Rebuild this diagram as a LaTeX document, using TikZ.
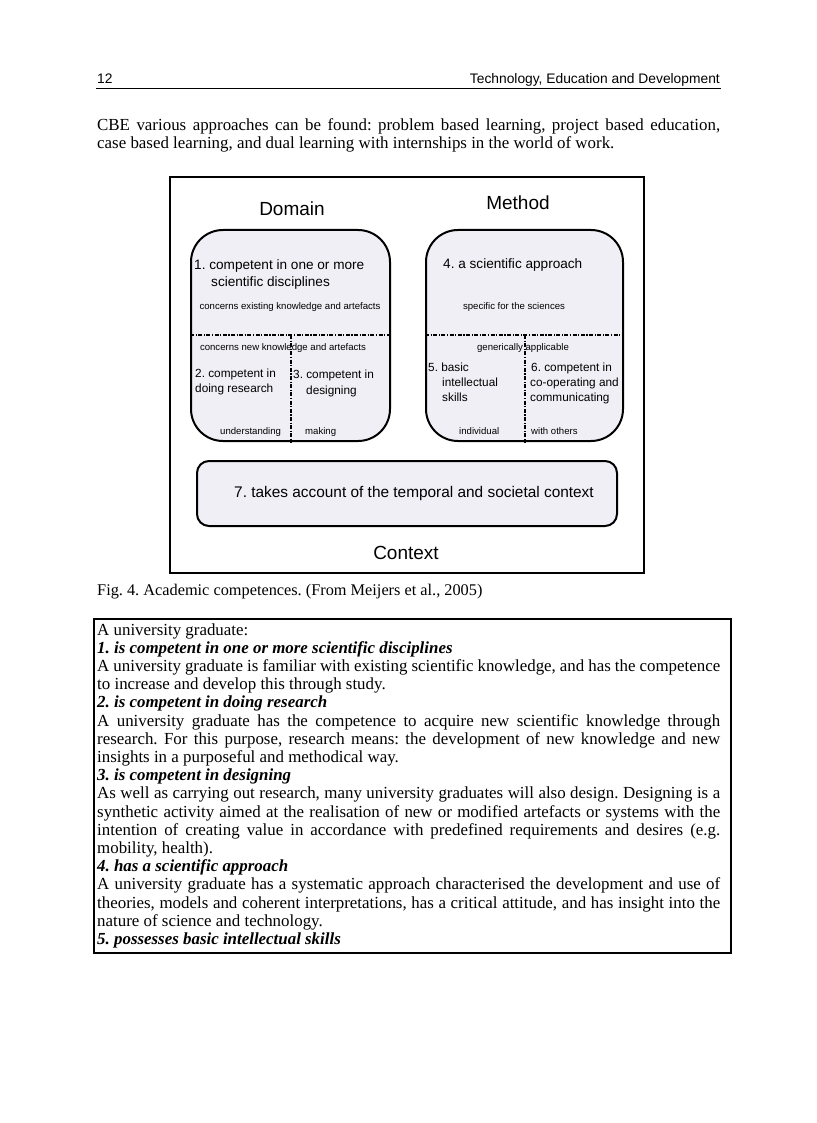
\documentclass[tikz,border=0pt]{standalone}
\usepackage{fontspec}
\setmainfont{Liberation Serif}
\newfontfamily\arial{Liberation Sans}
\definecolor{boxfill}{RGB}{240,239,246}
\newcommand{\jline}[1]{\makebox[623pt][s]{#1}}
\newcommand{\bi}[1]{\textbf{\textit{#1}}}
\frenchspacing
\tikzset{
  body/.style={anchor=base west, inner sep=0pt, font=\fontsize{16.9}{19}\selectfont},
  hdr/.style={inner sep=0pt, font=\arial\fontsize{13.8}{16}\selectfont},
  big/.style={inner sep=0pt, anchor=base, font=\arial\fontsize{19}{22}\selectfont},
  lab/.style={anchor=base west, inner sep=0pt, font=\arial\fontsize{13.6}{15}\selectfont},
  labs/.style={anchor=base west, inner sep=0pt, font=\arial\fontsize{11.8}{14}\selectfont},
  small/.style={anchor=base, inner sep=0pt, font=\arial\fontsize{9.6}{11}\selectfont},
  smallw/.style={anchor=base west, inner sep=0pt, font=\arial\fontsize{9.6}{11}\selectfont},
  cbox/.style={draw, line width=2pt, rounded corners=32pt, fill=boxfill, inner sep=0pt},
  sep/.style={line width=1.3pt, dash pattern=on 4pt off 1.5pt on 1.2pt off 1.5pt}
}
\begin{document}
\begin{tikzpicture}[x=1pt,y=-1pt]
\useasboundingbox (0,0) rectangle (816,1123);
\fill[white] (0,0) rectangle (816,1123);

% header
\node[hdr, anchor=base west] (pg) at (97,84) {12};
\node[hdr, anchor=base east] (title) at (720,84) {Technology, Education and Development};
\draw[line width=1.5pt] (96,88.5) -- (721,88.5);

% body paragraph
\node[body] (p1) at (97,131) {\jline{CBE various approaches can be found: problem based learning, project based education,}};
\node[body] (p2) at (97,149) {case based learning, and dual learning with internships in the world of work.};

% figure frame
\draw[line width=2pt] (170,177) rectangle (644,573);
\node[big] (domain) at (292,215) {Domain};
\node[big] (method) at (518,210) {Method};
\node[big] (context) at (406,559) {Context};

% Domain box
\node[cbox, minimum width=199pt, minimum height=211pt] (dom) at (290.5,335.5) {};
\draw[sep] (dom.west |- 0,335) -- (dom.east |- 0,335);
\draw[sep] (291,335) -- (dom.south -| 291,0);
\node[lab] (d1a) at (194,269) {1. competent in one or more};
\node[lab] (d1b) at (211,286) {scientific disciplines};
\node[small] (d1c) at (290,309.5) {concerns existing knowledge and artefacts};
\node[small] (d1d) at (283,350.5) {concerns new knowledge and artefacts};
\node[labs] (d2a) at (195,377.5) {2. competent in};
\node[labs] (d2b) at (195,392.5) {doing research};
\node[labs] (d3a) at (293,378.5) {3. competent in};
\node[labs] (d3b) at (306,394.5) {designing};
\node[smallw] (d2c) at (220,434.5) {understanding};
\node[smallw] (d3c) at (305,434.5) {making};

% Method box
\node[cbox, minimum width=197pt, minimum height=211pt] (met) at (524.5,335.5) {};
\draw[sep] (met.west |- 0,335) -- (met.east |- 0,335);
\draw[sep] (525,335) -- (met.south -| 525,0);
\node[lab] (m4a) at (443,268) {4. a scientific approach};
\node[small] (m4b) at (514,309.5) {specific for the sciences};
\node[small] (m4c) at (523,350.5) {generically applicable};
\node[labs] (m5a) at (428,371.5) {5. basic};
\node[labs] (m5b) at (442,386.5) {intellectual};
\node[labs] (m5c) at (442,401.5) {skills};
\node[labs] (m6a) at (531,371.5) {6. competent in};
\node[labs] (m6b) at (530,386.5) {co-operating and};
\node[labs] (m6c) at (530,401.5) {communicating};
\node[smallw] (m5d) at (459,434.5) {individual};
\node[smallw] (m6d) at (531,434.5) {with others};

% Context box
\node[cbox, rounded corners=12pt, minimum width=420pt, minimum height=65pt] (ctx) at (407,493.5) {};
\node[lab, font=\arial\fontsize{15.4}{17}\selectfont] (c7) at (234,497.5) {7. takes account of the temporal and societal context};

% caption
\node[body, font=\fontsize{16.3}{19}\selectfont] (cap) at (97,595) {Fig. 4. Academic competences. (From Meijers et al., 2005)};

% text box
\draw[line width=1.2pt] (94,619) rectangle (731,953);
\node[body] (t1) at (97,635) {A university graduate:};
\node[body] (t2) at (97,653.2) {\bi{1. is competent in one or more scientific disciplines}};
\node[body] (t3) at (97,671.4) {\jline{A university graduate is familiar with existing scientific knowledge, and has the competence}};
\node[body] (t4) at (97,689.6) {to increase and develop this through study.};
\node[body] (t5) at (97,707.8) {\bi{2. is competent in doing research}};
\node[body] (t6) at (97,726) {\jline{A university graduate has the competence to acquire new scientific knowledge through}};
\node[body] (t7) at (97,744.2) {\jline{research. For this purpose, research means: the development of new knowledge and new}};
\node[body] (t8) at (97,762.4) {insights in a purposeful and methodical way.};
\node[body] (t9) at (97,780.6) {\bi{3. is competent in designing}};
\node[body] (t10) at (97,798.8) {\jline{As well as carrying out research, many university graduates will also design. Designing is a}};
\node[body] (t11) at (97,817) {\jline{synthetic activity aimed at the realisation of new or modified artefacts or systems with the}};
\node[body] (t12) at (97,835.2) {\jline{intention of creating value in accordance with predefined requirements and desires (e.g.}};
\node[body] (t13) at (97,853.4) {mobility, health).};
\node[body] (t14) at (97,871.6) {\bi{4. has a scientific approach}};
\node[body] (t15) at (97,889.8) {\jline{A university graduate has a systematic approach characterised the development and use of}};
\node[body] (t16) at (97,908) {\jline{theories, models and coherent interpretations, has a critical attitude, and has insight into the}};
\node[body] (t17) at (97,926.2) {nature of science and technology.};
\node[body] (t18) at (97,944.4) {\bi{5. possesses basic intellectual skills}};
\end{tikzpicture}
\end{document}
